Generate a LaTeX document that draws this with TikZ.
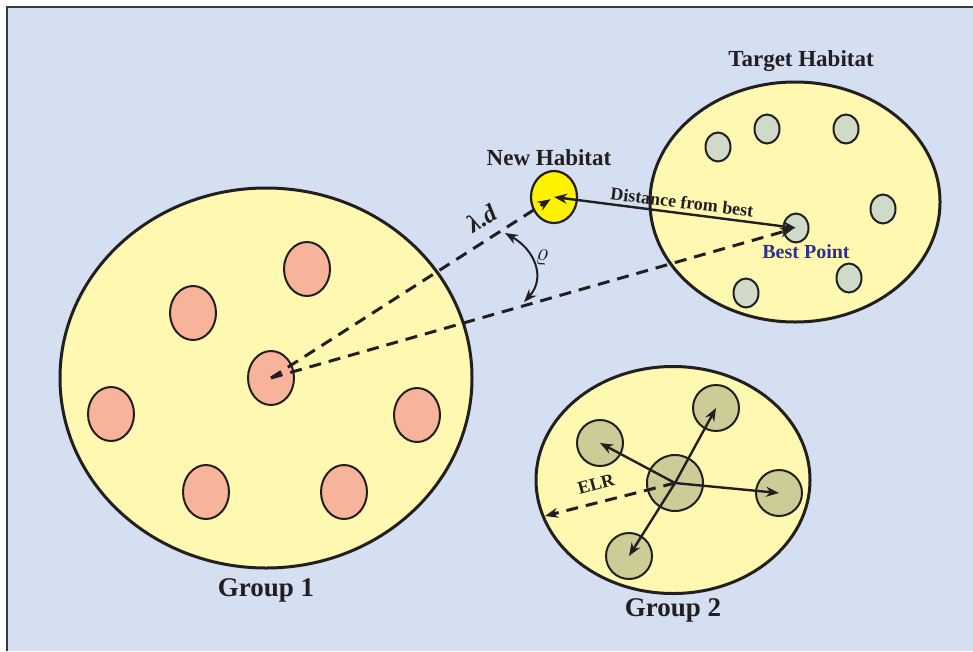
\documentclass[tikz,border=0pt]{standalone}
\usepackage{fontspec}
\setmainfont{Liberation Serif}
\usetikzlibrary{shapes.geometric,arrows.meta}
\definecolor{bgblue}{HTML}{D4DFF1}
\definecolor{framegray}{HTML}{3A3A3A}
\definecolor{lineblk}{HTML}{231F20}
\definecolor{habyellow}{HTML}{FFF8B0}
\definecolor{pinkfill}{HTML}{F8B39B}
\definecolor{grayfill}{HTML}{CFDAC8}
\definecolor{olivefill}{HTML}{CDCC96}
\definecolor{newyellow}{HTML}{FFF200}
\definecolor{bestblue}{HTML}{2E3192}
\tikzset{
  habitat/.style={ellipse, draw=lineblk, line width=3pt, fill=habyellow, inner sep=0pt},
  pinkpt/.style={ellipse, draw=lineblk, line width=2pt, fill=pinkfill, inner sep=0pt, minimum width=46pt, minimum height=54pt},
  graypt/.style={ellipse, draw=lineblk, line width=2pt, fill=grayfill, inner sep=0pt, minimum width=25pt, minimum height=29pt},
  olivept/.style={circle, draw=lineblk, line width=2pt, fill=olivefill, inner sep=0pt, minimum size=46pt},
  newhab/.style={ellipse, draw=lineblk, line width=2.2pt, fill=newyellow, inner sep=0pt, minimum width=46pt, minimum height=52pt},
  biglbl/.style={font=\bfseries\fontsize{27}{30}\selectfont, text=lineblk},
  midlbl/.style={font=\bfseries\fontsize{23}{26}\selectfont, text=lineblk},
  smalllbl/.style={font=\bfseries\fontsize{18}{20}\selectfont, text=lineblk},
  solidarr/.style={line width=2.4pt, draw=lineblk},
  dashln/.style={line width=3pt, draw=lineblk, dash pattern=on 12pt off 8pt},
  tip/.tip={Stealth[length=13pt,width=10pt]}
}
\begin{document}
\begin{tikzpicture}[x=1pt,y=-1pt]
\useasboundingbox (0,0) rectangle (973,651);
\fill[bgblue] (7,7) rectangle (973,651);
\draw[framegray, line width=2pt] (7,651) -- (7,7) -- (973,7);

% Group 1
\node[habitat, minimum width=412pt, minimum height=380pt] (g1) at (266,378) {};
\node[pinkpt] (p1) at (307,269) {};
\node[pinkpt] (p2) at (193,313) {};
\node[pinkpt] (p3) at (271,378) {};
\node[pinkpt] (p4) at (111,414) {};
\node[pinkpt] (p5) at (417,415) {};
\node[pinkpt] (p6) at (206,492) {};
\node[pinkpt] (p7) at (344,492) {};
\node[biglbl] (g1lbl) at (266,590) {Group 1};

% Target habitat
\node[habitat, minimum width=290pt, minimum height=240pt] (th) at (795,202) {};
\node[graypt] (t1) at (718,147) {};
\node[graypt] (t2) at (767,129) {};
\node[graypt] (t3) at (846,129) {};
\node[graypt] (t4) at (883,209) {};
\node[graypt] (best) at (796,228) {};
\node[graypt] (t6) at (849,278) {};
\node[graypt] (t7) at (746,293) {};
\node[midlbl] (thlbl) at (801,61) {Target Habitat};
\node[font=\bfseries\fontsize{20}{22}\selectfont, text=bestblue] (bplbl) at (806,252) {Best Point};

% New habitat
\node[newhab] (nh) at (554,197) {};
\node[midlbl] (nhlbl) at (549,158) {New Habitat};

% Group 2
\node[habitat, minimum width=274pt, minimum height=227pt] (g2) at (673,480) {};
\node[olivept, minimum size=56pt] (g2c) at (675,483) {};
\node[olivept] (q1) at (600,443) {};
\node[olivept] (q2) at (716,408) {};
\node[olivept] (q3) at (779,493) {};
\node[olivept] (q4) at (629,556) {};
\node[biglbl] (g2lbl) at (673,610) {Group 2};
\coordinate (elrend) at (545,516);

% dashed lines from group 1
\draw[dashln, -{tip}, shorten >=4pt] (p3.center) -- (nh.center);
\draw[dashln, -{tip}, shorten >=3pt] (p3.center) -- (best.center);
% distance from best
\draw[solidarr, {tip}-{tip}] (nh.center) -- (best.center);
\node[font=\bfseries\fontsize{18}{20}\selectfont, text=lineblk, rotate=-7] (dlbl) at (682,202) {Distance from best};
% lambda d
\node[font=\bfseries\itshape\fontsize{25}{27}\selectfont, text=lineblk, rotate=32] (ldlbl) at (482,218) {λ.d};
% angle arc
\coordinate (a1) at (505,233);
\coordinate (a2) at (524,302);
\draw[line width=2pt, draw=lineblk, {tip}-{tip}] (a1) .. controls (535,250) and (546,278) .. (a2);
\node[font=\fontsize{24}{26}\selectfont, text=lineblk] (rholbl) at (542,258) {$\varrho$};

% group 2 arrows
\draw[solidarr, -{tip}] (g2c.center) -- (q1.center);
\draw[solidarr, -{tip}] (g2c.center) -- (q2.center);
\draw[solidarr, -{tip}] (g2c.center) -- (q3.center);
\draw[solidarr, -{tip}] (g2c.center) -- (q4.center);
\draw[dashln, -{tip}] (g2c.center) -- (elrend);
\node[smalllbl, rotate=15] (elrlbl) at (596,484) {ELR};
\end{tikzpicture}
\end{document}
